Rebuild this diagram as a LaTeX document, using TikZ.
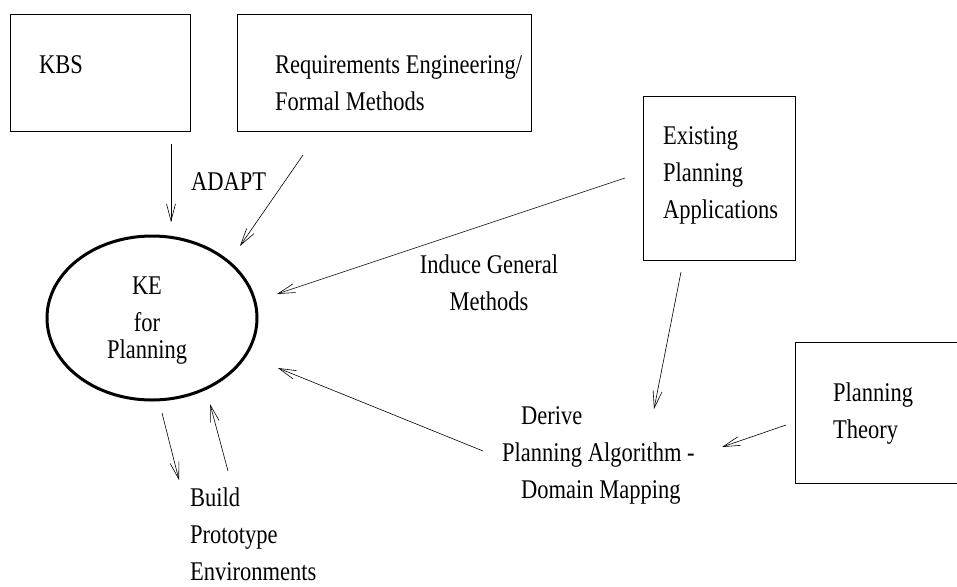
\documentclass[tikz,border=0pt]{standalone}
\usepackage{fontspec}
\setmainfont{Liberation Serif}
\usetikzlibrary{shapes.geometric,arrows.meta}
\begin{document}
\begin{tikzpicture}[x=1pt,y=-1pt]
		\tikzset{box/.style = {shape=rectangle, draw, line width=0.8pt, inner sep=0pt}}
		\tikzset{txt/.style = {font=\fontsize{22.5}{30.8}\selectfont, yscale=1.2, inner sep=0pt, align=left, anchor=base west}}
		\tikzset{link/.style = {line width=0.6pt, -{Straight Barb[length=17pt,width=9pt]}}}

		\useasboundingbox (0,0) rectangle (957,586);

		\node[box, minimum width=180pt, minimum height=117pt] (kbs) at (100,72.5) {};
		\node[box, minimum width=294pt, minimum height=117pt] (reqeng) at (384,72.5) {};
		\node[box, minimum width=152pt, minimum height=164pt] (apps) at (719,178) {};
		\node[box, minimum width=170pt, minimum height=141pt] (theory) at (880,412.5) {};
		\node[shape=ellipse, draw, line width=3pt, minimum width=210pt, minimum height=164pt] (ke) at (152,318) {};

		% base of a multi-line node sits on its last line
		\node[txt] (kbs_t) at (39,73) {KBS};
		\node[txt] (reqeng_t) at (275,110) {Requirements Engineering/\\Formal Methods};
		\node[txt] (apps_t) at (663,218) {Existing\\Planning\\Applications};
		\node[txt] (theory_t) at (833,438) {Planning\\Theory};
		\node[txt, align=center, anchor=base] (ke_t) at (147,358) {KE\\for\\[-9pt]Planning};
		\node[txt] (adapt) at (191,190) {ADAPT};
		\node[txt, align=center, anchor=base] (induce) at (489,310) {Induce General\\Methods};
		\node[txt] (derive) at (502,498) {\hspace{19pt}Derive\\Planning Algorithm -\\\hspace{19pt}Domain Mapping};
		\node[txt] (build) at (190,580) {Build\\Prototype\\Environments};

		\coordinate (S_1) at (171,144);
		\coordinate (S_2) at (303,155);
		\coordinate (S_3) at (625,178);
		\coordinate (S_4) at (681,272);
		\coordinate (S_5) at (786,425);
		\coordinate (S_6) at (483,451);
		\coordinate (S_7) at (162,413);
		\coordinate (S_8) at (228,471);

		\coordinate (E_1) at (171,222);
		\coordinate (E_2) at (240,246);
		\coordinate (E_3) at (277,294);
		\coordinate (E_4) at (654,409);
		\coordinate (E_5) at (722,447);
		\coordinate (E_6) at (278,368);
		\coordinate (E_7) at (179,480);
		\coordinate (E_8) at (210,404);

		\draw[link] (S_1)--(E_1);
		\draw[link] (S_2)--(E_2);
		\draw[link] (S_3)--(E_3);
		\draw[link] (S_4)--(E_4);
		\draw[link] (S_5)--(E_5);
		\draw[link] (S_6)--(E_6);
		\draw[link] (S_7)--(E_7);
		\draw[link] (S_8)--(E_8);

	\end{tikzpicture}
\end{document}
